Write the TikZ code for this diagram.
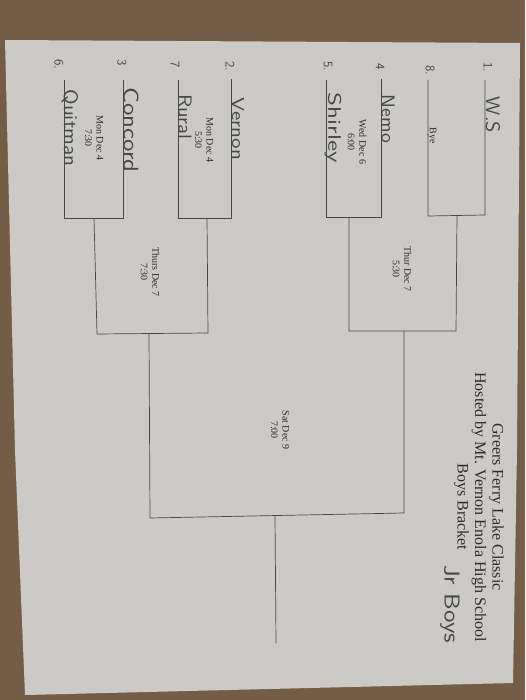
\documentclass[tikz,border=0pt]{standalone}
\usepackage{fontspec}
\usepackage{graphicx}
\setmainfont{Liberation Serif}
\definecolor{carpet}{RGB}{116,93,70}
\definecolor{paper}{RGB}{203,202,199}
\definecolor{linec}{RGB}{72,72,72}
\definecolor{inkp}{RGB}{45,45,45}
\definecolor{inkh}{RGB}{70,70,75}
\newcommand{\hw}[3]{\resizebox{#1pt}{#2pt}{#3}}
\begin{document}
\begin{tikzpicture}[x=1pt,y=-1pt,
  bline/.style={draw=linec, line width=0.7pt},
  printed/.style={rotate=-90, font=\fontsize{10}{11.5}\selectfont, text=inkp, align=center, inner sep=0pt},
  hand/.style={rotate=-90, text=inkh, inner sep=0pt, font=\sffamily},
  seed/.style={rotate=-90, text=inkh, inner sep=0pt, font=\sffamily\fontsize{13}{13}\selectfont},
  titletext/.style={rotate=-90, font=\fontsize{16}{17.5}\selectfont, align=center, text=inkp, inner sep=0pt}]
\useasboundingbox (0,0) rectangle (525,700);
\fill[carpet] (0,0) rectangle (525,700);
\fill[paper] (5,40) -- (520,43) -- (517,450) -- (513,683) -- (25,695) -- (15,450) -- cycle;

% round 1 coordinates
\coordinate (t6) at (64,80);   \coordinate (b6) at (64,218);
\coordinate (t3) at (123,80);  \coordinate (b3) at (123,218);
\coordinate (t7) at (178,80);  \coordinate (b7) at (178,218);
\coordinate (t2) at (231,79);  \coordinate (b2) at (231,218);
\coordinate (t5) at (326,80);  \coordinate (b5) at (326,217);
\coordinate (t4) at (381,79);  \coordinate (b4) at (381,217);
\coordinate (t8) at (428,80);  \coordinate (b8) at (428,216);
\coordinate (t1) at (485,80);  \coordinate (b1) at (485,215);
% round 2
\coordinate (m36) at (94,218);  \coordinate (r36) at (97,334);
\coordinate (m27) at (207,218); \coordinate (r27) at (208,333);
\coordinate (m45) at (349,217); \coordinate (r45) at (349,331);
\coordinate (m18) at (457,215.5); \coordinate (r18) at (456,331);
% round 3
\coordinate (sA) at (149,333.5); \coordinate (fA) at (150,518);
\coordinate (sB) at (404,331);   \coordinate (fB) at (404,513);
% final
\coordinate (sC) at (275,515.5); \coordinate (fC) at (276,643);

\draw[bline] (t6) -- (b6) -- (b3) -- (t3);
\draw[bline] (t7) -- (b7) -- (b2) -- (t2);
\draw[bline] (t5) -- (b5) -- (b4) -- (t4);
\draw[bline] (t8) -- (b8) -- (b1) -- (t1);
\draw[bline] (m36) -- (r36) -- (r27) -- (m27);
\draw[bline] (m45) -- (r45) -- (r18) -- (m18);
\draw[bline] (sA) -- (fA) -- (fB) -- (sB);
\draw[bline] (sC) -- (fC);

% title
\node[titletext] (title) at (479,507) {Greers Ferry Lake Classic\\Hosted by Mt. Vernon Enola High School\\Boys Bracket};
\node[hand] (jrboys) at (450,604) {\hw{78}{15}{Jr Boys}};

% printed labels
\node[printed] (bye) at (432,136) {Bye};
\node[printed] (g45) at (357,142) {Wed Dec 6\\6:00};
\node[printed] (g27) at (204,140) {Mon Dec 4\\5:30};
\node[printed] (g36) at (94,138) {Mon Dec 4\\7:30};
\node[printed] (g3627) at (150,272) {Thurs Dec 7\\7:30};
\node[printed] (g4518) at (402,269) {Thur Dec 7\\5:30};
\node[printed] (gfinal) at (280,430) {Sat Dec 9\\7:00};

% seeds
\node[seed] (s1) at (488,67) {1.};
\node[seed] (s8) at (430,70) {8.};
\node[seed] (s4) at (380,67) {4};
\node[seed] (s5) at (328,66) {5.};
\node[seed] (s2) at (230,66) {2.};
\node[seed] (s7) at (175,65) {7};
\node[seed] (s3) at (122,63) {3};
\node[seed] (s6) at (59,64) {6.};

% team names
\node[hand] (n1) at (493,115) {\hw{36}{14}{W.S}};
\node[hand] (n4) at (388,119) {\hw{48}{13}{Nemo}};
\node[hand] (n5) at (333,128) {\hw{70}{13}{Shirley}};
\node[hand] (n2) at (238,129) {\hw{62}{12}{Vernon}};
\node[hand] (n7) at (185,117) {\hw{45}{13}{Rural}};
\node[hand] (n3) at (131,130) {\hw{85}{15}{Concord}};
\node[hand] (n6) at (70,128) {\hw{77}{14}{Quitman}};
\end{tikzpicture}
\end{document}
